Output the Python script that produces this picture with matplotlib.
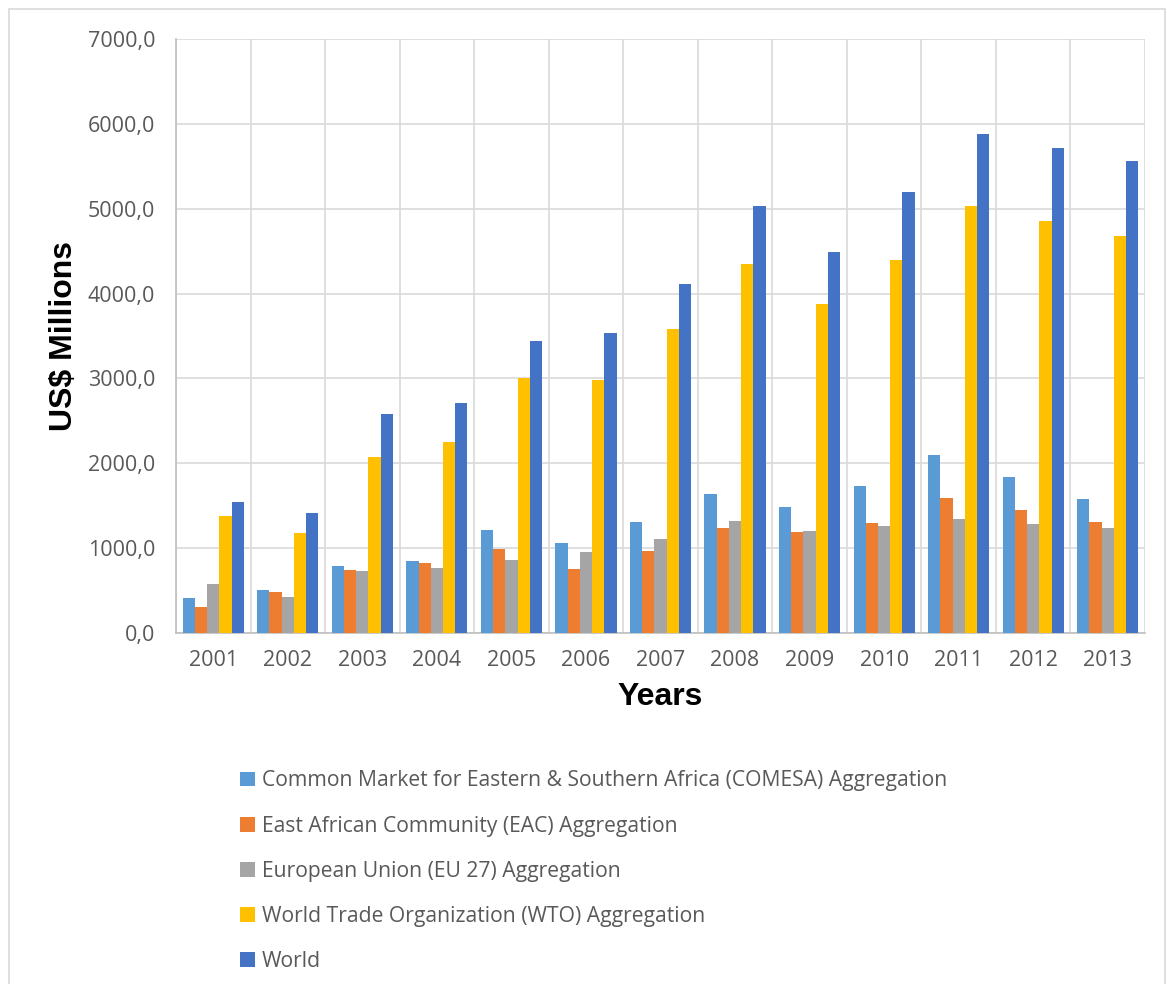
import numpy as np
import matplotlib.pyplot as plt
from matplotlib.patches import Rectangle, Patch
from matplotlib.ticker import FuncFormatter, MultipleLocator

years = ['2001', '2002', '2003', '2004', '2005', '2006', '2007',
         '2008', '2009', '2010', '2011', '2012', '2013']

comesa = [409, 507, 790, 848, 1214, 1065, 1304, 1634, 1481, 1732, 2101, 1842, 1583]
eac = [310, 487, 742, 821, 994, 754, 970, 1241, 1190, 1300, 1591, 1449, 1308]
eu27 = [577, 428, 734, 770, 860, 951, 1104, 1320, 1202, 1261, 1343, 1288, 1237]
wto = [1379, 1182, 2070, 2251, 3005, 2981, 3582, 4348, 3877, 4395, 5028, 4855, 4678]
world = [1540, 1418, 2577, 2707, 3445, 3532, 4109, 5032, 4486, 5193, 5880, 5715, 5562]

series_names = [
    'Common Market for Eastern & Southern Africa (COMESA) Aggregation',
    'East African Community (EAC) Aggregation',
    'European Union (EU 27) Aggregation',
    'World Trade Organization (WTO) Aggregation',
    'World',
]
colors = ['#5B9BD5', '#ED7D31', '#A5A5A5', '#FFC000', '#4472C4']

W, H = 1167, 984
fig = plt.figure(figsize=(W / 100, H / 100), dpi=100)

# chart frame
fig.patches.append(Rectangle((9 / W, -0.01), (W - 11) / W, 1 - 9 / H + 0.01,
                             transform=fig.transFigure, fill=False,
                             edgecolor='#D9D9D9', linewidth=1.2))

ax = fig.add_axes([176 / W, 1 - 633 / H, (1145 - 176) / W, (633 - 39) / H])

x = np.arange(len(years))
n = 5
bw = 0.164
for i, (vals, col) in enumerate(zip([comesa, eac, eu27, wto, world], colors)):
    ax.bar(x + (i - (n - 1) / 2) * bw, vals, width=bw, color=col,
           edgecolor='none', zorder=3)

ax.set_xlim(-0.5, len(years) - 0.5)
ax.set_ylim(0, 7000)
ax.yaxis.set_major_locator(MultipleLocator(1000))
ax.yaxis.set_major_formatter(FuncFormatter(lambda v, p: f'{v:.1f}'.replace('.', ',')))

# vertical lines between categories
for b in np.arange(-0.5, len(years), 1.0):
    ax.axvline(b, color='#D9D9D9', linewidth=1.2, zorder=1)
ax.grid(axis='y', color='#D9D9D9', linewidth=1.2, zorder=1)

ax.set_xticks(x)
ax.set_xticklabels(years)
ax.tick_params(axis='both', length=0, labelsize=15.5, labelcolor='#595959')
ax.tick_params(axis='x', pad=12)
ax.tick_params(axis='y', pad=15)
for lab in ax.get_xticklabels() + ax.get_yticklabels():
    lab.set_fontfamily('Open Sans')

for s in ['top', 'right']:
    ax.spines[s].set_visible(False)
for s in ['left', 'bottom']:
    ax.spines[s].set_color('#BFBFBF')
    ax.spines[s].set_linewidth(1.2)

ax.set_ylabel('US$ Millions', fontsize=23, fontweight='bold',
              fontfamily='Liberation Sans', labelpad=6)
ax.set_xlabel('Years', fontsize=23, fontweight='bold',
              fontfamily='Liberation Sans', labelpad=8)

handles = [Patch(facecolor=c, edgecolor='none') for c in colors]
leg = fig.legend(handles, series_names, loc='upper left',
                 bbox_to_anchor=(232 / W, 1 - 762 / H), frameon=False,
                 prop={'family': 'Open Sans', 'size': 15.2},
                 handlelength=0.7, handleheight=0.7, handletextpad=0.3,
                 labelspacing=1.14, borderaxespad=0)
for t in leg.get_texts():
    t.set_color('#595959')

fig.savefig('out.png', dpi=100)
